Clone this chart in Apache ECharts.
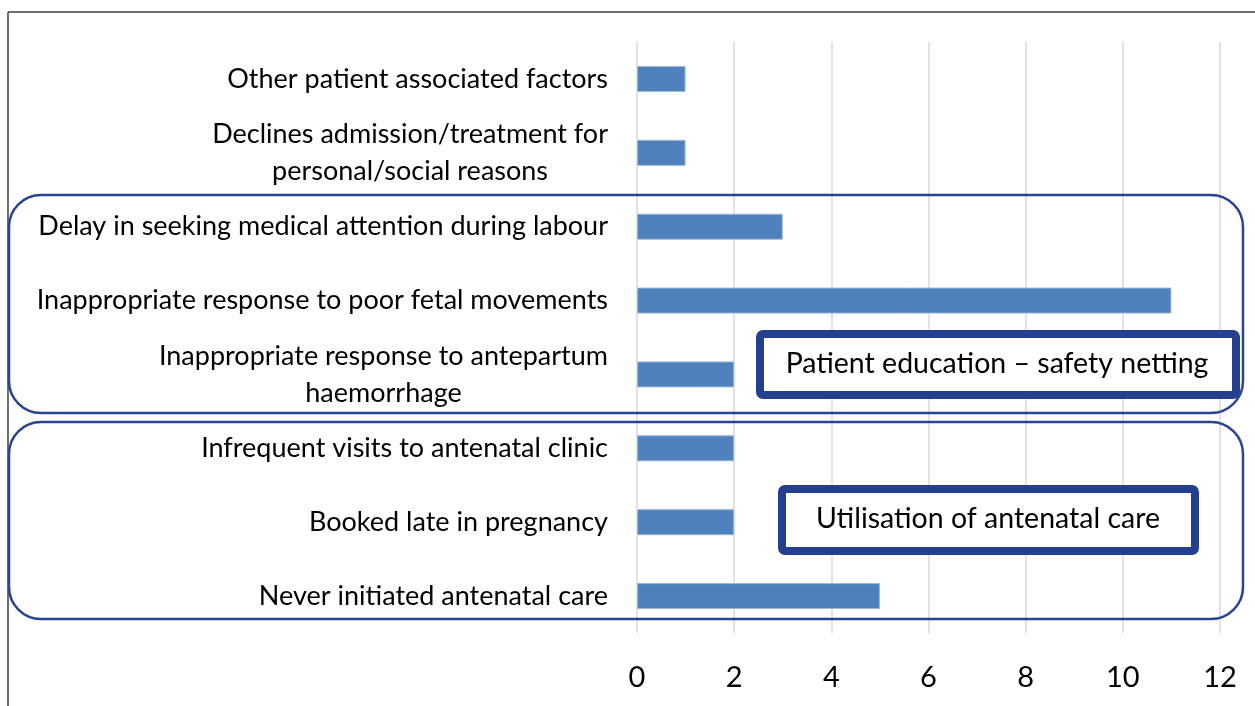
<!DOCTYPE html>
<html>
<head>
<meta charset="utf-8">
<script src="https://cdn.jsdelivr.net/npm/echarts@6/dist/echarts.min.js"></script>
<style>
  html, body { margin: 0; padding: 0; background: #fff; }
  #main { width: 1255px; height: 706px; }
</style>
</head>
<body>
<div id="main"></div>
<script>
// categories listed top to bottom
const categories = [
  'Other patient associated factors',
  'Declines admission/treatment for\npersonal/social reasons',
  'Delay in seeking medical attention during labour',
  'Inappropriate response to poor fetal movements',
  'Inappropriate response to antepartum\nhaemorrhage',
  'Infrequent visits to antenatal clinic',
  'Booked late in pregnancy',
  'Never initiated antenatal care'
]
const counts = [1, 1, 3, 11, 2, 2, 2, 5]
const groupNotes = ['Patient education \u2013 safety netting', 'Utilisation of antenatal care']

const FONT = 'Lato, "Open Sans", sans-serif'
const BLUE = '#2A4494'

const chart = echarts.init(document.getElementById('main'))

chart.setOption({
  animation: false,
  grid: { left: 637, right: 35, top: 42, bottom: 73 },
  xAxis: {
    type: 'value',
    min: 0,
    max: 12,
    interval: 2,
    axisLine: { show: false },
    axisTick: { show: false },
    splitLine: { lineStyle: { color: '#D9D9D9', width: 1.5 } },
    axisLabel: { color: '#000', fontSize: 29, fontFamily: FONT, margin: 30 }
  },
  yAxis: {
    type: 'category',
    inverse: true,
    data: categories,
    axisLine: { show: false },
    axisTick: { show: false },
    axisLabel: {
      color: '#000', fontSize: 27, fontFamily: FONT, margin: 29,
      lineHeight: 37, align: 'right',
      // wrapped lines are centred under each other, like the original
      formatter: v => v.split('\n').map(s => '{c|' + s + '}').join('\n'),
      rich: {
        c: { align: 'center', color: '#000', fontSize: 27, fontFamily: FONT, lineHeight: 37 }
      }
    }
  },
  series: [{
    type: 'bar',
    data: counts,
    barWidth: 26,
    itemStyle: { color: '#4F81BD', borderColor: '#9DB7DC', borderWidth: 1 }
  }],
  graphic: [
    // outer frame lines
    { type: 'line', shape: { x1: 8, y1: 12, x2: 1255, y2: 12 }, style: { stroke: '#404040', lineWidth: 1.5 }, silent: true },
    { type: 'line', shape: { x1: 8, y1: 12, x2: 8, y2: 706 }, style: { stroke: '#404040', lineWidth: 1.5 }, silent: true },
    // group outlines
    { type: 'rect', shape: { x: 9, y: 195, width: 1234, height: 218, r: 32 }, style: { fill: 'none', stroke: BLUE, lineWidth: 2.5 }, z: 10, silent: true },
    { type: 'rect', shape: { x: 9, y: 422, width: 1234, height: 197, r: 32 }, style: { fill: 'none', stroke: BLUE, lineWidth: 2.5 }, z: 10, silent: true },
    // note boxes
    { type: 'rect', shape: { x: 760, y: 334, width: 476, height: 61, r: 3 }, style: { fill: '#fff', stroke: '#253F8F', lineWidth: 8 }, z: 11, silent: true },
    { type: 'text', x: 997, y: 364, z: 12, silent: true,
      style: { text: groupNotes[0], fill: '#000', font: '28.5px ' + FONT, align: 'center', verticalAlign: 'middle' } },
    { type: 'rect', shape: { x: 782, y: 489, width: 413, height: 62, r: 3 }, style: { fill: '#fff', stroke: '#253F8F', lineWidth: 8 }, z: 11, silent: true },
    { type: 'text', x: 988, y: 519, z: 12, silent: true,
      style: { text: groupNotes[1], fill: '#000', font: '28.5px ' + FONT, align: 'center', verticalAlign: 'middle' } }
  ]
})
</script>
</body>
</html>
